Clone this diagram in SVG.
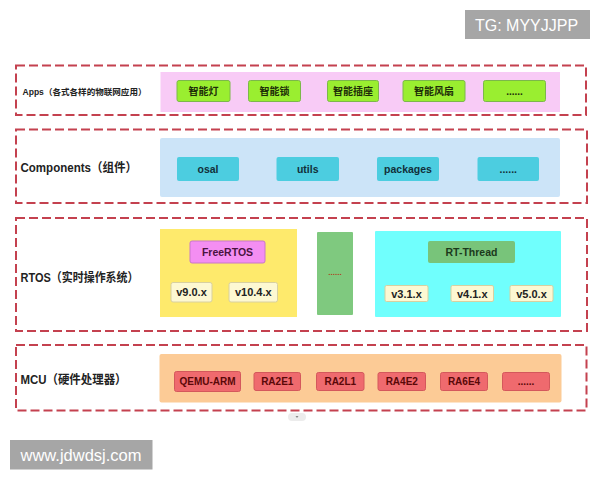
<svg xmlns="http://www.w3.org/2000/svg" width="600" height="480" viewBox="0 0 600 480">
<style>
.frame{fill:none;stroke:#c4414f;stroke-width:2;stroke-dasharray:9 4}
.lbl{font-family:"Liberation Sans","Noto Sans CJK SC",sans-serif;font-weight:bold;fill:#222;dominant-baseline:central}
.bt{font-family:"Liberation Sans","Noto Sans CJK SC",sans-serif;font-weight:bold;text-anchor:middle;dominant-baseline:central}
.app{fill:#9aee30;stroke:#7cb84a;stroke-width:1}
.appt{font-size:10px;fill:#1e2e08}
.cmp{fill:#4ccde0}
.cmpt{font-size:10.5px;fill:#12303a}
.ver{fill:#fdf8d2;stroke:#d8d0a0;stroke-width:1}
.vert{font-size:11px;fill:#222}
.mcu{fill:#ef6a6e;stroke:#d4585c;stroke-width:1}
.mcut{font-size:10px;fill:#5a0808}
.wm{fill:#a6a6a6}
.wmt{font-family:"Liberation Sans",sans-serif;fill:#ffffff;dominant-baseline:central}
</style>
<rect width="600" height="480" fill="#ffffff"/>

<g id="watermark-tg">
<rect class="wm" x="465" y="10" width="125" height="29"/>
<text class="wmt" x="475" y="25" font-size="16">TG: MYYJJPP</text>
</g>

<g id="layer-apps">
<rect class="frame" x="16" y="65.5" width="570" height="49.5"/>
<text class="lbl" x="22.5" y="91.5" font-size="8.5" textLength="124" lengthAdjust="spacingAndGlyphs">Apps（各式各样的物联网应用）</text>
<rect x="160.5" y="72" width="399.5" height="40" fill="#f8cbf6"/>
<g id="app-light"><rect class="app" x="177" y="80.5" width="53" height="21" rx="2"/><text class="bt appt" x="203.5" y="91">智能灯</text></g>
<g id="app-lock"><rect class="app" x="248.5" y="80.5" width="52" height="21" rx="2"/><text class="bt appt" x="274.5" y="91">智能锁</text></g>
<g id="app-socket"><rect class="app" x="327.5" y="80.5" width="51" height="21" rx="2"/><text class="bt appt" x="353" y="91">智能插座</text></g>
<g id="app-fan"><rect class="app" x="403" y="80.5" width="62" height="21" rx="2"/><text class="bt appt" x="434" y="91">智能风扇</text></g>
<g id="app-more"><rect class="app" x="483.5" y="80.5" width="62" height="21" rx="2"/><text class="bt appt" x="514.5" y="91">......</text></g>
</g>

<g id="layer-components">
<rect class="frame" x="16" y="129.5" width="571" height="73.5"/>
<text class="lbl" x="20.5" y="167.5" font-size="12.5" textLength="116.5" lengthAdjust="spacingAndGlyphs">Components（组件）</text>
<rect x="160" y="138" width="400" height="59" rx="2" fill="#cce4f8"/>
<g id="cmp-osal"><rect class="cmp" x="177" y="157" width="62" height="24" rx="2"/><text class="bt cmpt" x="208" y="169">osal</text></g>
<g id="cmp-utils"><rect class="cmp" x="276.5" y="157" width="62.5" height="24" rx="2"/><text class="bt cmpt" x="307.75" y="169">utils</text></g>
<g id="cmp-packages"><rect class="cmp" x="377" y="157" width="62" height="24" rx="2"/><text class="bt cmpt" x="408" y="169">packages</text></g>
<g id="cmp-more"><rect class="cmp" x="477.5" y="157" width="61.5" height="24" rx="2"/><text class="bt cmpt" x="508.25" y="169">......</text></g>
</g>

<g id="layer-rtos">
<rect class="frame" x="16" y="218" width="571" height="113"/>
<text class="lbl" x="20.5" y="277.5" font-size="12.5" textLength="118" lengthAdjust="spacingAndGlyphs">RTOS（实时操作系统）</text>
<g id="freertos">
<rect x="160" y="229" width="137" height="88" fill="#feea6c"/>
<rect x="190" y="241" width="75" height="22" rx="2" fill="#f48ef2" stroke="#c878c8" stroke-width="1"/>
<text class="bt" x="227.5" y="252" font-size="10.5" fill="#4a1440">FreeRTOS</text>
<rect class="ver" x="171" y="282.5" width="41" height="19.5" rx="2"/>
<text class="bt vert" x="191.5" y="292.25">v9.0.x</text>
<rect class="ver" x="229" y="282.5" width="48.5" height="19.5" rx="2"/>
<text class="bt vert" x="253.25" y="292.25">v10.4.x</text>
</g>
<g id="rtos-more">
<rect x="317" y="232" width="36" height="83" rx="1" fill="#7fc97f"/>
<text class="bt" x="335" y="272.5" font-size="8" fill="#b0401c">......</text>
</g>
<g id="rt-thread">
<rect x="375" y="231" width="186" height="86" rx="1" fill="#70fffd"/>
<rect x="428" y="241" width="87" height="22" rx="2" fill="#78c47a"/>
<text class="bt" x="471.5" y="252" font-size="10.5" fill="#1c3a1c">RT-Thread</text>
<rect class="ver" x="385" y="285.5" width="43" height="16" rx="1.5"/>
<text class="bt vert" x="406.5" y="293.5">v3.1.x</text>
<rect class="ver" x="451" y="285.5" width="42.5" height="16" rx="1.5"/>
<text class="bt vert" x="472.25" y="293.5">v4.1.x</text>
<rect class="ver" x="510" y="285.5" width="43" height="16" rx="1.5"/>
<text class="bt vert" x="531.5" y="293.5">v5.0.x</text>
</g>
</g>

<g id="layer-mcu">
<rect class="frame" x="16" y="345" width="570.5" height="65.5"/>
<text class="lbl" x="20.5" y="379.5" font-size="12.5" textLength="106" lengthAdjust="spacingAndGlyphs">MCU（硬件处理器）</text>
<rect x="159.5" y="354" width="402" height="48.5" rx="2" fill="#fccb96"/>
<g id="mcu-qemu"><rect class="mcu" x="174.5" y="371.5" width="66" height="20" rx="2"/><text class="bt mcut" x="207.5" y="381.5">QEMU-ARM</text></g>
<g id="mcu-ra2e1"><rect class="mcu" x="254" y="372.5" width="46.5" height="18" rx="2"/><text class="bt mcut" x="277.25" y="381.5">RA2E1</text></g>
<g id="mcu-ra2l1"><rect class="mcu" x="316.5" y="372.5" width="47.5" height="18" rx="2"/><text class="bt mcut" x="340.25" y="381.5">RA2L1</text></g>
<g id="mcu-ra4e2"><rect class="mcu" x="378" y="372.5" width="47.5" height="18" rx="2"/><text class="bt mcut" x="401.75" y="381.5">RA4E2</text></g>
<g id="mcu-ra6e4"><rect class="mcu" x="440.5" y="372.5" width="47" height="18" rx="2"/><text class="bt mcut" x="464" y="381.5">RA6E4</text></g>
<g id="mcu-more"><rect class="mcu" x="502.5" y="372.5" width="47" height="18" rx="2"/><text class="bt mcut" x="526" y="381.5">......</text></g>
</g>

<g id="scroll-tab">
<rect x="288" y="413" width="18" height="8" rx="4" fill="#ececec"/>
<path d="M295.5 416 L297 418 L298.5 416 Z" fill="#888"/>
</g>

<g id="watermark-site">
<rect class="wm" x="10" y="440" width="142.5" height="29.5"/>
<text class="wmt" x="20.5" y="455" font-size="16.5">www.jdwdsj.com</text>
</g>

<g id="connectors"></g>
</svg>
